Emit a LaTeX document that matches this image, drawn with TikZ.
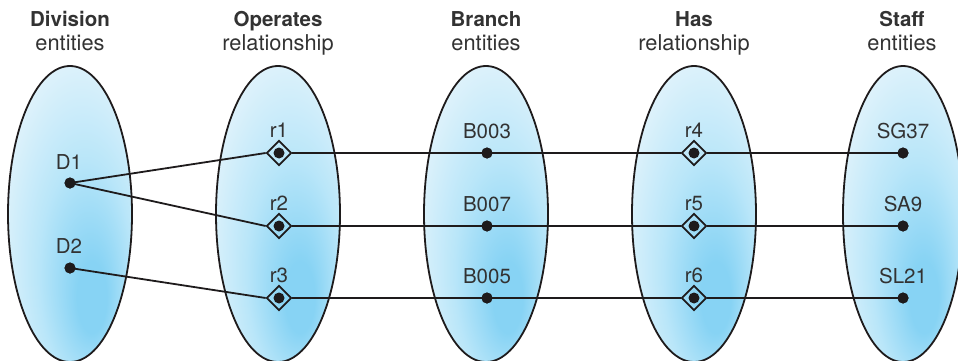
\documentclass[tikz,border=0pt]{standalone}
\usepackage{fontspec}
\setmainfont{TeX Gyre Heros}
\usetikzlibrary{shapes.geometric}
\definecolor{ink}{RGB}{30,27,28}
\definecolor{txt}{RGB}{50,50,50}
\definecolor{ellDark}{RGB}{135,211,244}
\definecolor{ellMid}{RGB}{185,230,249}
\definecolor{ellLight}{RGB}{225,243,251}
\definecolor{ellPale}{RGB}{242,250,254}
\pgfdeclareradialshading{ellshade}{\pgfpoint{10bp}{-16bp}}{color(0bp)=(ellDark); color(6bp)=(ellDark); color(19bp)=(ellMid); color(33bp)=(ellLight); color(45bp)=(ellPale); color(50bp)=(ellPale)}
\begin{document}
\begin{tikzpicture}[x=1pt,y=-1pt,
  set/.style={ellipse, inner sep=0pt, minimum width=124pt, minimum height=296pt,
    draw=ink, line width=1.8pt, shade, shading=ellshade},
  dot/.style={circle, fill=ink, inner sep=0pt, minimum size=11pt},
  rel/.style={diamond, draw=ink, line width=1.7pt, inner sep=0pt, minimum size=25pt},
  lab/.style={anchor=base, text=txt, inner sep=0pt, font=\fontsize{20.5}{24}\selectfont},
  hb/.style={anchor=base, text=txt, inner sep=0pt, font=\fontsize{20.5}{24}\selectfont\bfseries},
  hr/.style={anchor=base, text=txt, inner sep=0pt, font=\fontsize{21.8}{24}\selectfont},
  conn/.style={draw=ink, line width=1.8pt}]
\useasboundingbox (0,0) rectangle (958,361);
% sets
\node[set] (eDiv) at (70,214) {};
\node[set] (eOp) at (278,214) {};
\node[set] (eBr) at (486,214) {};
\node[set] (eHas) at (694,214) {};
\node[set, minimum width=120pt] (eSt) at (903,214) {};
% headers
\node[hb] (h1a) at (70,27) {Division};
\node[hr] (h1b) at (70,51) {entities};
\node[hb] (h2a) at (278,27) {Operates};
\node[hr] (h2b) at (278,51) {relationship};
\node[hb] (h3a) at (486,27) {Branch};
\node[hr] (h3b) at (486,51) {entities};
\node[hb] (h4a) at (694,27) {Has};
\node[hr] (h4b) at (694,51) {relationship};
\node[hb] (h5a) at (902,27) {Staff};
\node[hr] (h5b) at (902,51) {entities};
% division
\node[dot] (D1) at (70,183) {};
\node[dot] (D2) at (70,268) {};
\node[lab] (lD1) at (69,169) {D1};
\node[lab] (lD2) at (69,253) {D2};
% operates
\node[rel] (r1) at (279,153) {};
\node[rel] (r2) at (279,226) {};
\node[rel] (r3) at (279,298) {};
\node[dot] (r1d) at (r1) {};
\node[dot] (r2d) at (r2) {};
\node[dot] (r3d) at (r3) {};
\node[lab] (lr1) at (279,137) {r1};
\node[lab] (lr2) at (279,210) {r2};
\node[lab] (lr3) at (279,282) {r3};
% branch
\node[dot] (B003) at (487,153) {};
\node[dot] (B007) at (487,226) {};
\node[dot] (B005) at (487,298) {};
\node[lab] (lB1) at (487,138) {B003};
\node[lab] (lB2) at (487,211) {B007};
\node[lab] (lB3) at (487,283) {B005};
% has
\node[rel] (r4) at (694,153) {};
\node[rel] (r5) at (694,226) {};
\node[rel] (r6) at (694,298) {};
\node[dot] (r4d) at (r4) {};
\node[dot] (r5d) at (r5) {};
\node[dot] (r6d) at (r6) {};
\node[lab] (lr4) at (694,137) {r4};
\node[lab] (lr5) at (694,210) {r5};
\node[lab] (lr6) at (694,282) {r6};
% staff
\node[dot] (S1) at (903,153) {};
\node[dot] (S2) at (903,226) {};
\node[dot] (S3) at (903,298) {};
\node[lab] (lS1) at (903,138) {SG37};
\node[lab] (lS2) at (903,211) {SA9};
\node[lab] (lS3) at (903,283) {SL21};
% connectors
\path[conn] (D1.center) -- (r1.west);
\path[conn] (D1.center) -- (r2.west);
\path[conn] (D2.center) -- (r3.west);
\path[conn] (r1.east) -- (B003.center) -- (r4.west);
\path[conn] (r2.east) -- (B007.center) -- (r5.west);
\path[conn] (r3.east) -- (B005.center) -- (r6.west);
\path[conn] (r4.east) -- (S1.center);
\path[conn] (r5.east) -- (S2.center);
\path[conn] (r6.east) -- (S3.center);
% redraw dots on top
\fill[ink] (D1) circle[radius=5.5pt] (D2) circle[radius=5.5pt]
  (B003) circle[radius=5.5pt] (B007) circle[radius=5.5pt] (B005) circle[radius=5.5pt]
  (S1) circle[radius=5.5pt] (S2) circle[radius=5.5pt] (S3) circle[radius=5.5pt];
\end{tikzpicture}
\end{document}
